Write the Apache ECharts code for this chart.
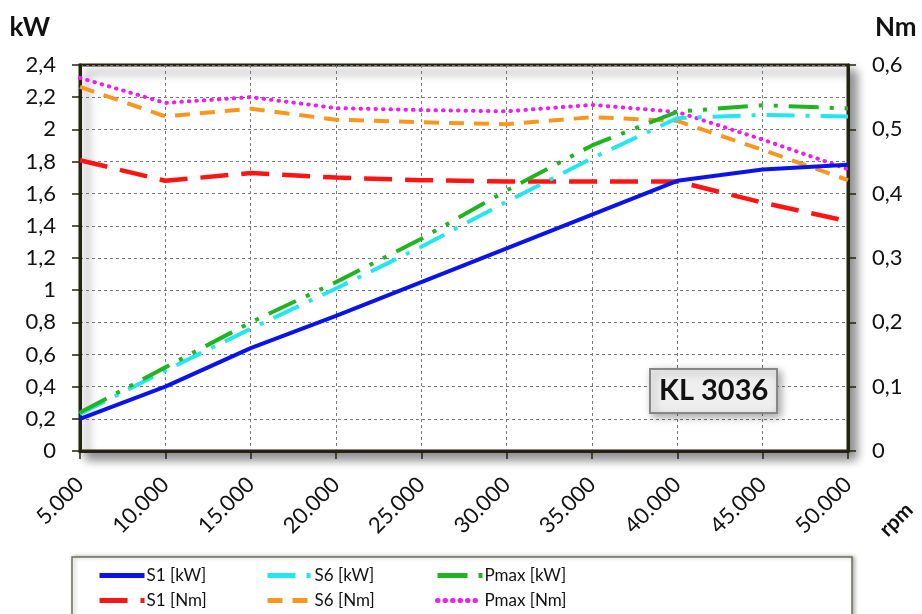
<!DOCTYPE html>
<html><head><meta charset="utf-8">
<script src="https://cdn.jsdelivr.net/npm/echarts@6/dist/echarts.min.js"></script>
<style>html,body{margin:0;padding:0;background:#fff}#c{width:922px;height:614px}</style>
</head><body><div id="c"></div>
<script>
var rpm = [5000, 10000, 15000, 20000, 25000, 30000, 35000, 40000, 45000, 50000];
var s1kW = [0.20, 0.40, 0.64, 0.84, 1.05, 1.26, 1.47, 1.68, 1.75, 1.78];
var s6kW = [0.23, 0.50, 0.76, 1.01, 1.27, 1.55, 1.82, 2.07, 2.09, 2.08];
var pmaxkW = [0.24, 0.52, 0.80, 1.05, 1.32, 1.62, 1.90, 2.11, 2.15, 2.13];
var s1Nm = [0.452, 0.420, 0.432, 0.425, 0.421, 0.419, 0.419, 0.419, 0.386, 0.357];
var s6Nm = [0.566, 0.520, 0.532, 0.515, 0.511, 0.508, 0.519, 0.513, 0.468, 0.421];
var pmaxNm = [0.580, 0.541, 0.550, 0.533, 0.530, 0.528, 0.538, 0.527, 0.484, 0.438];
var seriesNames = ['S1 [kW]', 'S6 [kW]', 'Pmax [kW]', 'S1 [Nm]', 'S6 [Nm]', 'Pmax [Nm]'];
var modelLabel = 'KL 3036';

function pairs(arr){ return rpm.map(function(x,i){ return [x, arr[i]]; }); }
function dec(v){ var s = (Math.round(v*10)/10).toString(); return s.replace('.', ','); }
function thousands(v){ return String(v).replace(/\B(?=(\d{3})+(?!\d))/g, '.'); }

var FONT = 'Lato';
var dark = '#23230f';
var chart = echarts.init(document.getElementById('c'));

function mkLegend(name, left, top){
  return { data:[name], left:left, top:top, padding:0, itemWidth:45, itemHeight:12, itemGap:0,
    itemStyle:{ opacity:0 },
    lineStyle:{ width:5 },
    textStyle:{ fontFamily:FONT, fontSize:17, color:'#111', padding:[0,0,0,-3] } };
}

var option = {
  backgroundColor:'#fff',
  animation:false,
  title:[{
    text: modelLabel, left:650, top:369,
    backgroundColor:'#efefef', borderColor:'#878787', borderWidth:2,
    padding:[7,9,7,9],
    shadowBlur:8, shadowColor:'rgba(0,0,0,0.35)', shadowOffsetX:3, shadowOffsetY:3,
    textStyle:{ fontFamily:FONT, fontSize:29, fontWeight:'bold', color:'#111', lineHeight:30 }
  }],
  legend:[
    mkLegend(seriesNames[0], 97, 567),
    mkLegend(seriesNames[1], 265, 567),
    mkLegend(seriesNames[2], 435, 567),
    mkLegend(seriesNames[3], 97, 592),
    mkLegend(seriesNames[4], 265, 592),
    mkLegend(seriesNames[5], 435, 592)
  ],
  graphic:[
    { type:'rect', z:-1, shape:{ x:72, y:557, width:780, height:80 },
      style:{ fill:'#fff', stroke:'#6e6e5c', lineWidth:1.5, shadowBlur:4, shadowColor:'rgba(0,0,0,0.3)', shadowOffsetX:2, shadowOffsetY:0 } },
    { type:'text', x:883, y:533, rotation:Math.PI/4,
      style:{ text:'rpm', fontFamily:FONT, fontSize:21, fontWeight:'bold', fill:'#111', textAlign:'left', textVerticalAlign:'middle' } }
  ],
  grid:{ left:80, right:74, top:65, bottom:163, show:true, backgroundColor:'#fff',
    borderColor:dark, borderWidth:3,
    shadowBlur:10, shadowColor:'rgba(0,0,0,0.45)', shadowOffsetX:7, shadowOffsetY:7 },
  xAxis:{ type:'value', min:5000, max:50000, interval:5000,
    axisLine:{ show:true, lineStyle:{ color:dark, width:3 } },
    axisTick:{ show:true, length:8, lineStyle:{ color:dark, width:1.5 } },
    axisLabel:{ rotate:45, margin:30, fontFamily:FONT, fontSize:22, color:'#111', formatter:thousands },
    splitLine:{ show:true, lineStyle:{ color:'#777', width:1, type:[3,3] } }
  },
  yAxis:[
    { type:'value', min:0, max:2.4, interval:0.2, position:'left',
      name:'kW', nameLocation:'end', nameGap:24,
      nameTextStyle:{ fontFamily:FONT, fontSize:26, fontWeight:'bold', color:'#111', align:'right', padding:[0,30,0,0] },
      axisLine:{ show:true, lineStyle:{ color:dark, width:3 } },
      axisTick:{ show:true, length:8, lineStyle:{ color:dark, width:1.5 } },
      axisLabel:{ margin:24, fontFamily:FONT, fontSize:22, color:'#111', formatter:dec },
      splitLine:{ show:true, lineStyle:{ color:'#777', width:1, type:[3,3] } }
    },
    { type:'value', min:0, max:0.6, interval:0.1, position:'right',
      name:'Nm', nameLocation:'end', nameGap:24,
      nameTextStyle:{ fontFamily:FONT, fontSize:26, fontWeight:'bold', color:'#111', align:'left', padding:[0,0,0,27] },
      axisLine:{ show:true, lineStyle:{ color:dark, width:3 } },
      axisTick:{ show:true, length:8, lineStyle:{ color:dark, width:1.5 } },
      axisLabel:{ margin:24, fontFamily:FONT, fontSize:22, color:'#111', formatter:dec },
      splitLine:{ show:false }
    }
  ],
  series:[
    { name:seriesNames[0], type:'line', yAxisIndex:0, data:pairs(s1kW), symbol:'none', z:6,
      lineStyle:{ color:'#0a14e8', width:4 }, itemStyle:{ color:'#0a14e8' } },
    { name:seriesNames[1], type:'line', yAxisIndex:0, data:pairs(s6kW), symbol:'none', z:4,
      lineStyle:{ color:'#22e6f0', width:4, type:[28,11,4,11] }, itemStyle:{ color:'#22e6f0' } },
    { name:seriesNames[2], type:'line', yAxisIndex:0, data:pairs(pmaxkW), symbol:'none', z:5,
      lineStyle:{ color:'#1fb51f', width:4, type:[30,11,4,11,4,11] }, itemStyle:{ color:'#1fb51f' } },
    { name:seriesNames[3], type:'line', yAxisIndex:1, data:pairs(s1Nm), symbol:'none', z:3,
      lineStyle:{ color:'#ff1414', width:4.5, type:[28,13] }, itemStyle:{ color:'#ff1414' } },
    { name:seriesNames[4], type:'line', yAxisIndex:1, data:pairs(s6Nm), symbol:'none', z:3,
      lineStyle:{ color:'#f8961e', width:4, type:[15,10] }, itemStyle:{ color:'#f8961e' } },
    { name:seriesNames[5], type:'line', yAxisIndex:1, data:pairs(pmaxNm), symbol:'none', z:3,
      lineStyle:{ color:'#ee1eee', width:4, type:[0.5,7], cap:'round' }, itemStyle:{ color:'#ee1eee' } }
  ]
};
chart.setOption(option);
</script></body></html>
